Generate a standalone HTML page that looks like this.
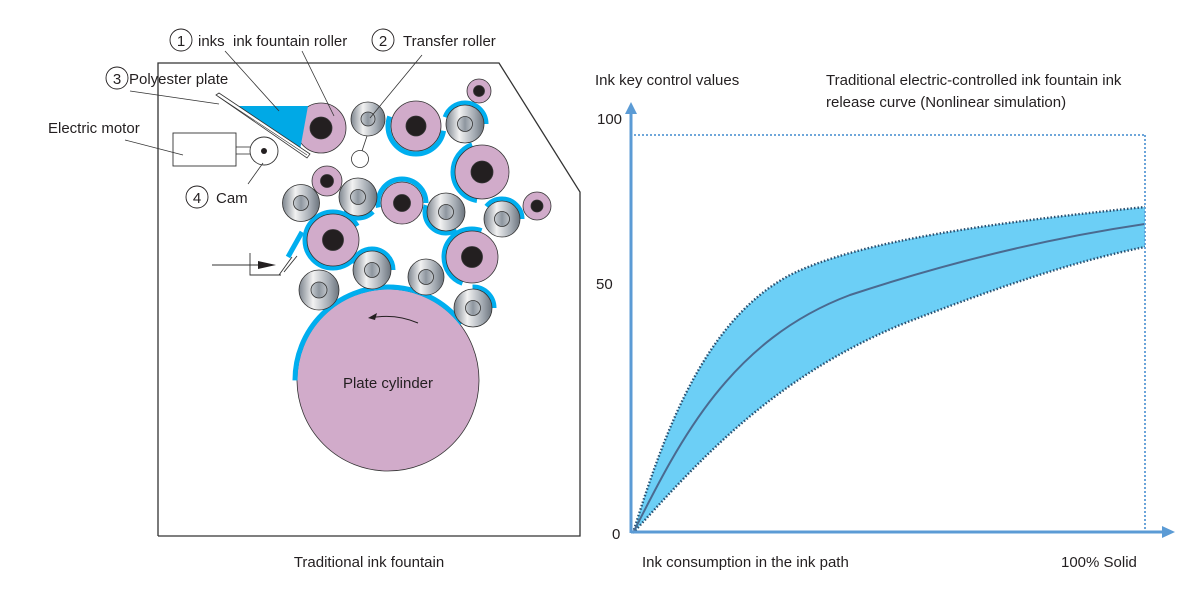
<!DOCTYPE html>
<html><head><meta charset="utf-8"><style>
html,body{margin:0;padding:0;background:#fff;}
svg{display:block;font-family:"Liberation Sans",Arial,sans-serif;}
</style></head><body>
<svg width="1179" height="594" viewBox="0 0 1179 594" xmlns="http://www.w3.org/2000/svg">
<defs>
<linearGradient id="g" x1="0" y1="0" x2="1" y2="0">
<stop offset="0" stop-color="#7d858e"/><stop offset="0.35" stop-color="#f2f2f2"/><stop offset="0.75" stop-color="#a3aab2"/><stop offset="1" stop-color="#6c747d"/>
</linearGradient>
<linearGradient id="g2" x1="0" y1="0" x2="1" y2="0">
<stop offset="0" stop-color="#c9ced3"/><stop offset="0.5" stop-color="#8e969f"/><stop offset="1" stop-color="#c0c5ca"/>
</linearGradient>
</defs>
<polyline points="158,536 158,63 499,63 580,192 580,536 158,536" fill="none" stroke="#333" stroke-width="1.3"/>

<circle cx="388" cy="380" r="91" fill="#d1abca" stroke="#333" stroke-width="0.8"/>
<text x="388" y="388" font-size="15" text-anchor="middle" fill="#231f20">Plate cylinder</text>
<path d="M418,323 Q395,313 370,318" fill="none" stroke="#231f20" stroke-width="1"/>
<path d="M368,318 L377,313 L375,320 Z" fill="#231f20"/>

<g stroke="#00aeef" stroke-width="5" fill="none">
<circle cx="388" cy="380" r="93" pathLength="360" stroke-dasharray="143 360" stroke-dashoffset="-180"/>
<circle cx="416" cy="126" r="28" pathLength="360" stroke-dasharray="190 360" stroke-dashoffset="-10"/>
<circle cx="465" cy="124" r="21" pathLength="360" stroke-dasharray="230 360" stroke-dashoffset="-200"/>
<circle cx="482" cy="172" r="29" pathLength="360" stroke-dasharray="150 360" stroke-dashoffset="-100"/>
<circle cx="502" cy="219" r="20" pathLength="360" stroke-dasharray="260 360" stroke-dashoffset="-220"/>
<circle cx="472" cy="257" r="28" pathLength="360" stroke-dasharray="180 360" stroke-dashoffset="-110"/>
<circle cx="473" cy="308" r="21" pathLength="360" stroke-dasharray="240 360" stroke-dashoffset="-270"/>
<circle cx="446" cy="212" r="21" pathLength="360" stroke-dasharray="140 360" stroke-dashoffset="-60"/>
<circle cx="402" cy="203" r="24" pathLength="360" stroke-dasharray="200 360" stroke-dashoffset="-170"/>
<circle cx="358" cy="197" r="21" pathLength="360" stroke-dasharray="90 360" stroke-dashoffset="-45"/>
<circle cx="333" cy="240" r="28" pathLength="360" stroke-dasharray="300 360" stroke-dashoffset="-30"/>
<circle cx="372" cy="270" r="21" pathLength="360" stroke-dasharray="190 360" stroke-dashoffset="-200"/>
<line x1="288" y1="257" x2="302" y2="232"/>
</g>

<g stroke="#333" stroke-width="0.8">
<circle cx="321" cy="128" r="25" fill="#d1abca"/><circle cx="321" cy="128" r="11" fill="#231f20"/>
<circle cx="416" cy="126" r="25" fill="#d1abca"/><circle cx="416" cy="126" r="10" fill="#231f20"/>
<circle cx="479" cy="91" r="12" fill="#d1abca"/><circle cx="479" cy="91" r="5.5" fill="#231f20"/>
<circle cx="482" cy="172" r="27" fill="#d1abca"/><circle cx="482" cy="172" r="11" fill="#231f20"/>
<circle cx="327" cy="181" r="15" fill="#d1abca"/><circle cx="327" cy="181" r="6.5" fill="#231f20"/>
<circle cx="402" cy="203" r="21" fill="#d1abca"/><circle cx="402" cy="203" r="8.5" fill="#231f20"/>
<circle cx="537" cy="206" r="14" fill="#d1abca"/><circle cx="537" cy="206" r="6" fill="#231f20"/>
<circle cx="333" cy="240" r="26" fill="#d1abca"/><circle cx="333" cy="240" r="10.5" fill="#231f20"/>
<circle cx="472" cy="257" r="26" fill="#d1abca"/><circle cx="472" cy="257" r="10.5" fill="#231f20"/>
</g>
<g stroke="#333" stroke-width="0.8">
<circle cx="368" cy="119" r="17" fill="url(#g)"/><circle cx="368" cy="119" r="7" fill="url(#g2)"/>
<circle cx="465" cy="124" r="19" fill="url(#g)"/><circle cx="465" cy="124" r="7.5" fill="url(#g2)"/>
<circle cx="301" cy="203" r="18.5" fill="url(#g)"/><circle cx="301" cy="203" r="7.5" fill="url(#g2)"/>
<circle cx="358" cy="197" r="19" fill="url(#g)"/><circle cx="358" cy="197" r="7.5" fill="url(#g2)"/>
<circle cx="446" cy="212" r="19" fill="url(#g)"/><circle cx="446" cy="212" r="7.5" fill="url(#g2)"/>
<circle cx="502" cy="219" r="18" fill="url(#g)"/><circle cx="502" cy="219" r="7.5" fill="url(#g2)"/>
<circle cx="372" cy="270" r="19" fill="url(#g)"/><circle cx="372" cy="270" r="7.5" fill="url(#g2)"/>
<circle cx="426" cy="277" r="18" fill="url(#g)"/><circle cx="426" cy="277" r="7.5" fill="url(#g2)"/>
<circle cx="319" cy="290" r="20" fill="url(#g)"/><circle cx="319" cy="290" r="8" fill="url(#g2)"/>
<circle cx="473" cy="308" r="19" fill="url(#g)"/><circle cx="473" cy="308" r="7.5" fill="url(#g2)"/>
</g>
<line x1="367" y1="136" x2="362" y2="151" stroke="#333" stroke-width="0.8"/>
<circle cx="360" cy="159" r="8.5" fill="#fff" stroke="#333" stroke-width="0.8"/>

<polygon points="237,106 308,106 300,150" fill="#00a9e6"/>
<polygon points="216,95 219,93 310,154 307,158" fill="#fff" stroke="#333" stroke-width="0.8"/>
<line x1="219" y1="97" x2="307" y2="155" stroke="#333" stroke-width="0.6"/>

<rect x="173" y="133" width="63" height="33" fill="#fff" stroke="#333" stroke-width="0.9"/>
<line x1="236" y1="147" x2="250" y2="147" stroke="#333" stroke-width="0.8"/>
<line x1="236" y1="154" x2="250" y2="154" stroke="#333" stroke-width="0.8"/>
<circle cx="264" cy="151" r="14" fill="#fff" stroke="#333" stroke-width="0.9"/>
<circle cx="264" cy="151" r="3" fill="#231f20"/>

<g stroke="#333" stroke-width="0.9" fill="none">
<line x1="212" y1="265" x2="262" y2="265"/>
<polyline points="250,253 250,275 281,275"/>
<line x1="279" y1="275" x2="292" y2="257"/>
<line x1="284" y1="272" x2="297" y2="256"/>
</g>
<path d="M258,261 L276,265 L258,269 Z" fill="#231f20"/>

<g stroke="#333" stroke-width="0.8">
<line x1="225" y1="51" x2="279" y2="111"/>
<line x1="302" y1="51" x2="334" y2="116"/>
<line x1="422" y1="55" x2="370" y2="118"/>
<line x1="130" y1="91" x2="219" y2="104"/>
<line x1="125" y1="140" x2="183" y2="155"/>
<line x1="248" y1="184" x2="263" y2="163"/>
</g>
<g font-size="15" fill="#231f20">
<circle cx="181" cy="40" r="11" fill="#fff" stroke="#231f20" stroke-width="0.9"/>
<text x="181" y="46" text-anchor="middle">1</text>
<text x="198" y="46">inks&#160; ink fountain roller</text>
<circle cx="383" cy="40" r="11" fill="#fff" stroke="#231f20" stroke-width="0.9"/>
<text x="383" y="46" text-anchor="middle">2</text>
<text x="403" y="46">Transfer roller</text>
<circle cx="117" cy="78" r="11" fill="#fff" stroke="#231f20" stroke-width="0.9"/>
<text x="117" y="84" text-anchor="middle">3</text>
<text x="129" y="84">Polyester plate</text>
<text x="48" y="133">Electric motor</text>
<circle cx="197" cy="197" r="11" fill="#fff" stroke="#231f20" stroke-width="0.9"/>
<text x="197" y="203" text-anchor="middle">4</text>
<text x="216" y="203">Cam</text>
<text x="369" y="567" text-anchor="middle">Traditional ink fountain</text>
</g>

<path d="M633,533 C665,430 705,320 790,275 C860,240 1000,222 1145,207 L1145,247 C1070,262 990,290 900,325 C770,380 700,460 633,533 Z" fill="#6ccff6"/>
<g fill="none" stroke="#2a5070" stroke-width="2.4" stroke-dasharray="1.5 2">
<path d="M633,533 C665,430 705,320 790,275 C860,240 1000,222 1145,207"/>
<path d="M633,533 C700,460 770,380 900,325 C990,290 1070,262 1145,247"/>
</g>
<path d="M633,533 C680,440 730,340 850,295 C950,262 1050,238 1145,224" fill="none" stroke="#4a6a90" stroke-width="2"/>
<g stroke="#5b9bd5" stroke-width="1.8" stroke-dasharray="2 2" fill="none">
<line x1="634" y1="135" x2="1145" y2="135"/>
<line x1="1145" y1="135" x2="1145" y2="531"/>
</g>
<line x1="631" y1="533" x2="631" y2="112" stroke="#5b9bd5" stroke-width="3"/>
<path d="M625,114 L631,102 L637,114 Z" fill="#5b9bd5"/>
<line x1="631" y1="532" x2="1164" y2="532" stroke="#5b9bd5" stroke-width="3"/>
<path d="M1162,526 L1175,532 L1162,538 Z" fill="#5b9bd5"/>
<g font-size="15" fill="#231f20">
<text x="595" y="85">Ink key control values</text>
<text x="826" y="85">Traditional electric-controlled ink fountain ink</text>
<text x="826" y="107">release curve (Nonlinear simulation)</text>
<text x="597" y="124">100</text>
<text x="596" y="289">50</text>
<text x="612" y="539">0</text>
<text x="642" y="567">Ink consumption in the ink path</text>
<text x="1061" y="567">100% Solid</text>
</g>
</svg>
</body></html>
